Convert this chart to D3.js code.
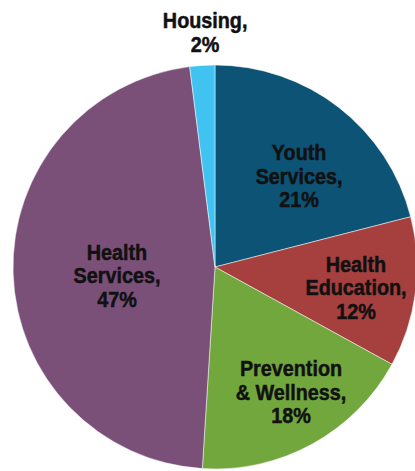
<!DOCTYPE html>
<html>
<head>
<meta charset="utf-8">
<script src="https://cdn.jsdelivr.net/npm/d3@7"></script>
<style>
  body { margin: 0; background: #fff; }
  svg { display: block; }
  .lbl { font-family: "Liberation Sans", Arial, sans-serif; font-weight: bold; font-size: 22px; fill: #111; stroke: #111; stroke-width: 0.5px; }
</style>
</head>
<body>
<div id="chart"></div>
<script>
// slices, clockwise from 12 o'clock
var categories = ["Youth Services", "Health Education", "Prevention & Wellness", "Health Services", "Housing"];
var values = [21, 12, 18, 47, 2];
var colors = ["#0c5375", "#a5403f", "#72a73e", "#7a5079", "#40c3f1"];
// label text lines, as drawn on the chart
var labelLines = [
  ["Youth", "Services,", "21%"],
  ["Health", "Education,", "12%"],
  ["Prevention", "& Wellness,", "18%"],
  ["Health", "Services,", "47%"],
  ["Housing,", "2%"]
];

var width = 415, height = 471;
var cx = 215, cy = 267, radius = 202;

var svg = d3.select("#chart").append("svg")
  .attr("width", width)
  .attr("height", height);

var g = svg.append("g").attr("transform", "translate(" + cx + "," + cy + ")");

var pie = d3.pie().sort(null).value(d => d);
var arcs = pie(values);

var arc = d3.arc().innerRadius(0).outerRadius(radius);

g.selectAll("path")
  .data(arcs)
  .enter()
  .append("path")
  .attr("d", arc)
  .attr("fill", (d, i) => colors[i])
  .attr("stroke", "#fff")
  .attr("stroke-width", 0.5);

// where each label sits: angle (deg, clockwise from top) and radius fraction
// housing sits outside the pie
var labelAngle = [42.7, 98.1, 148.7, 265.3, 357.6];
var labelR = [0.614, 0.705, 0.724, 0.487, 1.164];
var lineH = 23.5;

arcs.forEach(function(d, i) {
  var a = labelAngle[i] * Math.PI / 180;
  var r = radius * labelR[i];
  var x = Math.sin(a) * r;
  var y = -Math.cos(a) * r;
  var lines = labelLines[i];
  // condensed look: squeeze the bold face horizontally
  var t = g.append("text")
    .attr("class", "lbl")
    .attr("text-anchor", "middle")
    .attr("transform", "translate(" + x + "," + (y - (lines.length - 1) * lineH / 2 + 8) + ") scale(0.9,1)");
  lines.forEach(function(l, j) {
    t.append("tspan")
      .attr("x", 0)
      .attr("dy", j == 0 ? 0 : lineH)
      .text(l);
  });
});
</script>
</body>
</html>
